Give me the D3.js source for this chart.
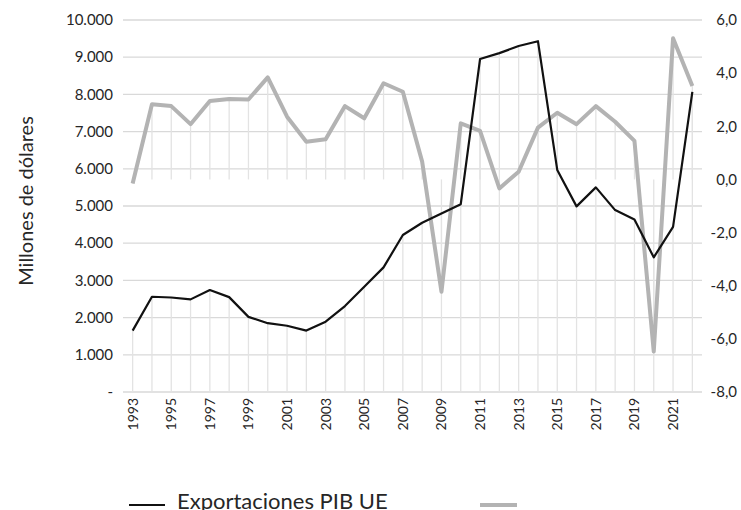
<!DOCTYPE html>
<html>
<head>
<meta charset="utf-8">
<script src="https://cdn.jsdelivr.net/npm/d3@7"></script>
<style>
  body { margin: 0; background: #fff; }
  text { font-family: Lato, "Open Sans", sans-serif; }
</style>
</head>
<body>
<svg id="chart" width="741" height="510"></svg>
<script>
const years = d3.range(1993, 2023);
// exportaciones (millones de dólares), eje izquierdo
const exportaciones = [1650, 2560, 2540, 2490, 2740, 2550, 2020, 1850, 1780, 1650,
  1890, 2310, 2830, 3350, 4220, 4550, 4800, 5050, 8950, 9110,
  9300, 9430, 5970, 4990, 5500, 4890, 4640, 3620, 4440, 8070];
// PIB UE (variación %), eje derecho
const pibUE = [-0.15, 2.83, 2.76, 2.08, 2.95, 3.03, 3.01, 3.84, 2.36, 1.42,
  1.51, 2.76, 2.30, 3.62, 3.30, 0.67, -4.23, 2.11, 1.83, -0.34,
  0.29, 1.95, 2.51, 2.08, 2.76, 2.17, 1.45, -6.48, 5.31, 3.52];
const leftTicks = d3.range(0, 10001, 1000);
const rightTicks = d3.range(-8, 7, 2);
const labelYears = years.filter(y => y % 2 === 1);

const svg = d3.select("#chart");
const plotL = 123, plotR = 702, plotT = 20, plotB = 392;

const x = d3.scaleBand().domain(years).range([plotL, plotR]);
const cx = d => x(d) + x.bandwidth() / 2;
const yL = d3.scaleLinear().domain([0, 10000]).range([plotB, plotT]);
const yR = d3.scaleLinear().domain([-8, 6]).range([plotB, plotT]);

const fmtL = d => d === 0 ? "-" : d3.format(",")(d).replace(/,/g, ".");
const fmtR = d => d3.format(".1f")(d).replace(".", ",").replace("−", "-");

// horizontal gridlines
svg.append("g").selectAll("line").data(leftTicks).join("line")
  .attr("x1", plotL).attr("x2", plotR)
  .attr("y1", d => yL(d)).attr("y2", d => yL(d))
  .attr("stroke", "#d9d9d9").attr("stroke-width", 1.3);

// drop lines
svg.append("g").selectAll("line").data(years).join("line")
  .attr("x1", cx).attr("x2", cx)
  .attr("y1", (d, i) => yL(exportaciones[i])).attr("y2", plotB)
  .attr("stroke", "#e3e3e3").attr("stroke-width", 1.3);
svg.append("g").selectAll("line").data(years).join("line")
  .attr("x1", cx).attr("x2", cx)
  .attr("y1", (d, i) => yR(pibUE[i])).attr("y2", yR(0))
  .attr("stroke", "#e3e3e3").attr("stroke-width", 1.3);

// left axis labels
svg.append("g").selectAll("text").data(leftTicks).join("text")
  .attr("x", 113).attr("y", d => yL(d)).attr("dy", "0.35em")
  .attr("text-anchor", "end").attr("font-size", 15).attr("fill", "#262626")
  .text(fmtL);

// right axis labels
svg.append("g").selectAll("text").data(rightTicks).join("text")
  .attr("x", 737).attr("y", d => yR(d)).attr("dy", "0.35em")
  .attr("text-anchor", "end").attr("font-size", 15).attr("fill", "#262626")
  .text(fmtR);

// x labels
svg.append("g").selectAll("text").data(labelYears).join("text")
  .attr("transform", d => `translate(${cx(d) + 5},398) rotate(-90)`)
  .attr("text-anchor", "end").attr("font-size", 14).attr("fill", "#262626")
  .text(d => d);

// y title
svg.append("text")
  .attr("transform", "translate(33,201) rotate(-90)")
  .attr("text-anchor", "middle").attr("font-size", 20).attr("fill", "#262626")
  .text("Millones de dólares");

// lines
svg.append("path").datum(pibUE)
  .attr("fill", "none").attr("stroke", "#b3b3b3").attr("stroke-width", 4)
  .attr("stroke-linejoin", "round")
  .attr("d", d3.line().x((d, i) => cx(years[i])).y(d => yR(d)));
svg.append("path").datum(exportaciones)
  .attr("fill", "none").attr("stroke", "#111").attr("stroke-width", 2.2)
  .attr("stroke-linejoin", "round")
  .attr("d", d3.line().x((d, i) => cx(years[i])).y(d => yL(d)));

// legend
const lg = svg.append("g");
lg.append("line").attr("x1", 129).attr("x2", 165).attr("y1", 505).attr("y2", 505)
  .attr("stroke", "#111").attr("stroke-width", 2.2);
lg.append("text").attr("x", 177).attr("y", 509).attr("font-size", 22).attr("fill", "#262626")
  .text("Exportaciones PIB UE");
lg.append("line").attr("x1", 480).attr("x2", 517).attr("y1", 505).attr("y2", 505)
  .attr("stroke", "#b3b3b3").attr("stroke-width", 4);
</script>
</body>
</html>
